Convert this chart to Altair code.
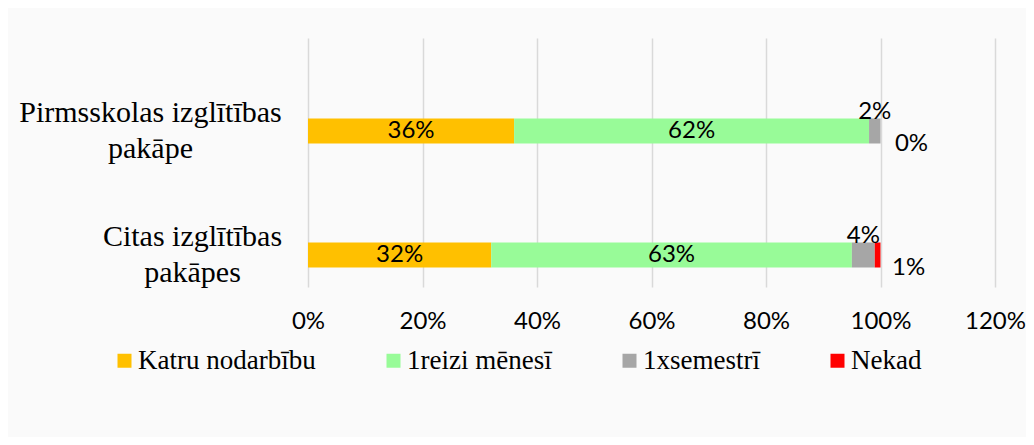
import altair as alt
import pandas as pd

categories = ["Pirmsskolas izglītības|pakāpe", "Citas izglītības|pakāpes"]
series = ["Katru nodarbību", "1reizi mēnesī", "1xsemestrī", "Nekad"]
colors = ["#FFC000", "#98FB98", "#A6A6A6", "#FF0000"]
values = {
    "Katru nodarbību": [0.36, 0.32],
    "1reizi mēnesī": [0.62, 0.63],
    "1xsemestrī": [0.02, 0.04],
    "Nekad": [0.00, 0.01],
}
x_ticks = [0, 0.2, 0.4, 0.6, 0.8, 1.0, 1.2]

rows = []
for s_i, s in enumerate(series):
    for c_i, c in enumerate(categories):
        rows.append({"cat": c, "series": s, "order": s_i, "value": values[s][c_i]})
df = pd.DataFrame(rows)

base = alt.Chart(df).transform_stack(
    stack="value", groupby=["cat"], as_=["v0", "v1"],
    sort=[alt.SortField("order", order="ascending")]
).transform_calculate(mid="(datum.v0 + datum.v1) / 2")

y_enc = alt.Y(
    "cat:N", sort=categories, title=None,
    scale=alt.Scale(paddingInner=0.484, paddingOuter=0.246, align=1),
    axis=alt.Axis(
        labelExpr="split(datum.label, '|')", labelFont="Liberation Serif",
        labelFontSize=30, labelColor="#000000", labelAlign="center",
        labelPadding={"condition": {"test": f"datum.value == '{categories[0]}'", "value": 158},
                      "value": 116},
        labelOffset=-18,
        labelLineHeight=36, labelBaseline="middle",
        ticks=False, tickSize=0, domain=False, grid=False, labelLimit=400,
    ),
)

bars = base.mark_bar(size=25).encode(
    x=alt.X("v0:Q", scale=alt.Scale(domain=[0, 1.2], nice=False),
            title=None,
            axis=alt.Axis(values=x_ticks, format=".0%", labelFont="Lato",
                          labelFontSize=24, labelColor="#000000",
                          labelPadding=22, labelFlush=False, ticks=False,
                          domain=False, grid=True, gridColor="#D9D9D9",
                          gridWidth=1.5)),
    x2="v1:Q",
    y=y_enc,
    color=alt.Color("series:N", sort=series,
                    scale=alt.Scale(domain=series, range=colors),
                    legend=alt.Legend(
                        title=None, orient="none", direction="horizontal",
                        legendX=-197, legendY=309, padding=0,
                        symbolType="square",
                        symbolSize=196, symbolStrokeWidth=0,
                        labelFont="Liberation Serif", labelFontSize=27,
                        labelColor="#000000", labelOffset=0,
                        columnPadding=64, labelLimit=400)),
)

big = base.transform_filter("datum.order < 2").mark_text(
    font="Lato", fontSize=24, color="#000000", baseline="middle"
).encode(x="mid:Q", y=alt.Y("cat:N", sort=categories),
         text=alt.Text("value:Q", format=".0%"))

gray = base.transform_filter("datum.order == 2").mark_text(
    font="Lato", fontSize=24, color="#000000", baseline="middle", dy=-19
).encode(x="mid:Q", y=alt.Y("cat:N", sort=categories),
         text=alt.Text("value:Q", format=".0%"))

red = base.transform_filter("datum.order == 3").mark_text(
    font="Lato", fontSize=24, color="#000000", baseline="middle", dx=31, dy=13
).encode(x="mid:Q", y=alt.Y("cat:N", sort=categories),
         text=alt.Text("value:Q", format=".0%"))

chart = alt.layer(bars, big, gray, red).properties(
    width=687, height=249,
    autosize=alt.AutoSizeParams(type="none"),
    padding={"left": 300, "top": 30, "right": 31, "bottom": 150},
    background="#FAFAFA",
).configure_view(stroke=None)

chart.save("out.html", embed_options={"renderer": "svg", "actions": False})
